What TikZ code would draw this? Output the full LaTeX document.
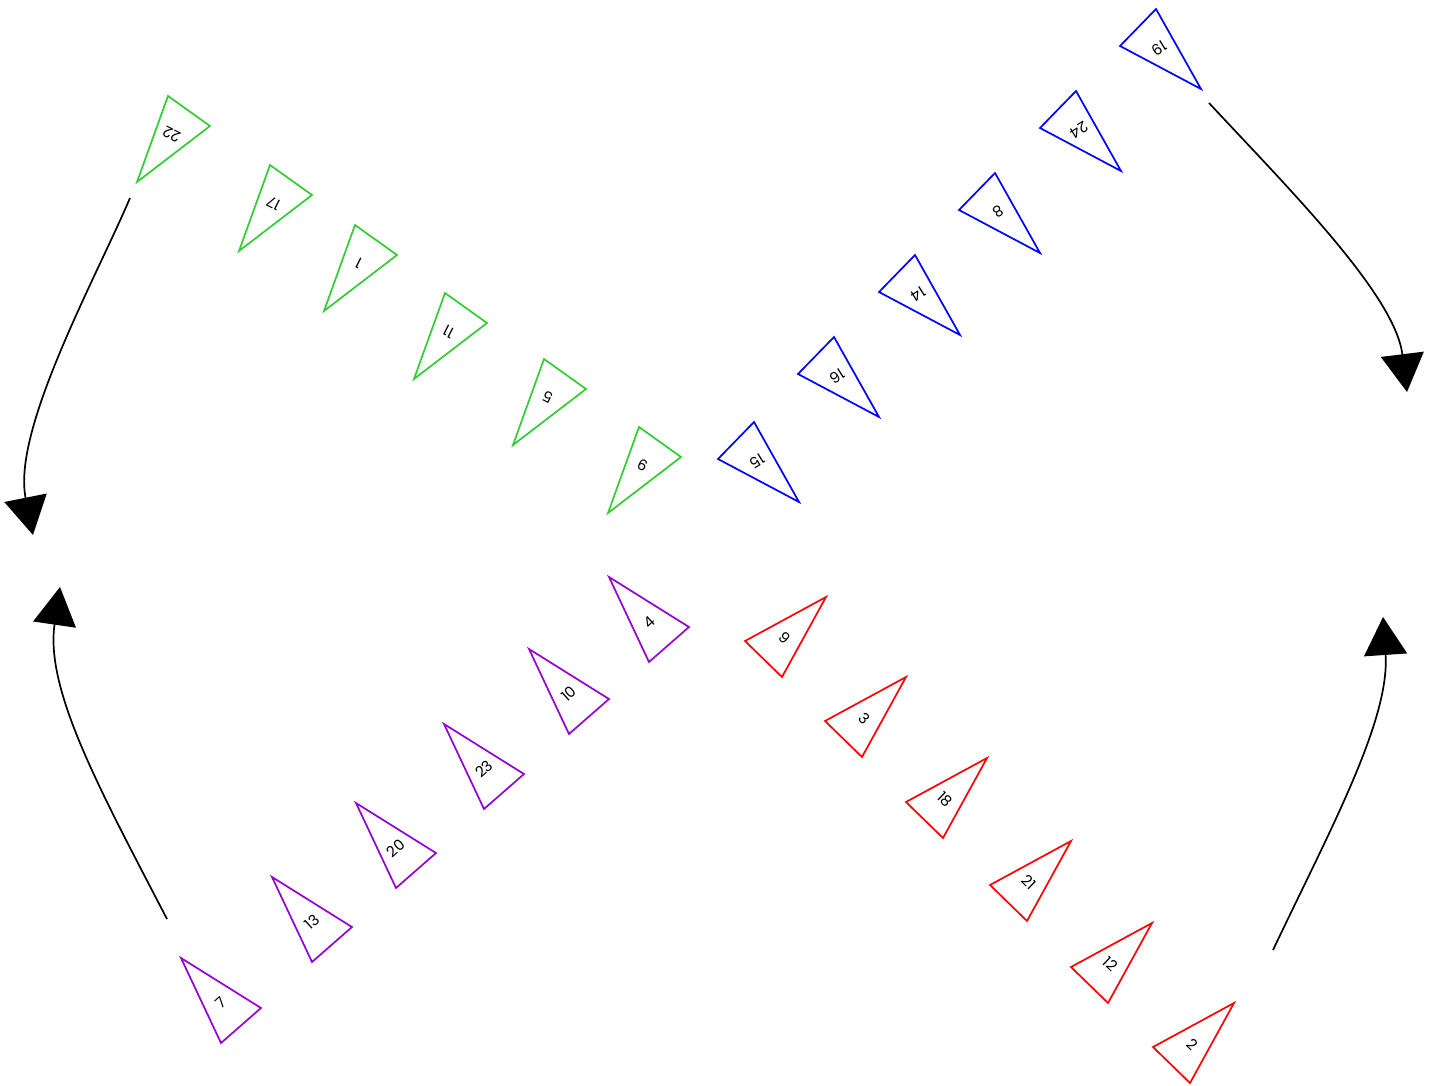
\documentclass[tikz,border=0pt]{standalone}
\usepackage{fontspec}
\setmainfont{Poppins}
\usetikzlibrary{arrows.meta}
\definecolor{tgreen}{RGB}{50,205,50}
\definecolor{tblue}{RGB}{0,0,255}
\definecolor{tpurple}{RGB}{148,0,211}
\definecolor{tred}{RGB}{255,0,0}
\newcommand\trigreen[4]{\begin{scope}[shift={(#2,#3)}]\draw[tri,tgreen] (0,0)--(42,30)--(-31,86)--cycle;\node[lab,rotate=153] (#1) at (3.67,38.67) {#4};\end{scope}}
\newcommand\triblue[4]{\begin{scope}[shift={(#2,#3)}]\draw[tri,tblue] (0,0)--(-36,37)--(45,80)--cycle;\node[lab,rotate=212] (#1) at (3,39) {#4};\end{scope}}
\newcommand\tripurple[4]{\begin{scope}[shift={(#2,#3)}]\draw[tri,tpurple] (0,0)--(80,50)--(40,85)--cycle;\node[lab,rotate=42] (#1) at (40,45) {#4};\end{scope}}
\newcommand\trired[4]{\begin{scope}[shift={(#2,#3)}]\draw[tri,tred] (0,0)--(-81,44)--(-44,80)--cycle;\node[lab,rotate=-44] (#1) at (-41.7,41.3) {#4};\end{scope}}
\begin{document}
\begin{tikzpicture}[x=1pt,y=-1pt,
  tri/.style={line width=1.7pt,line join=miter},
  lab/.style={font=\fontsize{15}{15}\selectfont,inner sep=0pt,text=black},
  conn/.style={line width=1.7pt,-{Triangle[length=38pt,width=43pt]}}]
\useasboundingbox (0,0) rectangle (1434,1086);
% green group
\trigreen{g22}{168}{96}{22}
\trigreen{g17}{270}{165}{17}
\trigreen{g1}{355}{225}{1}
\trigreen{g11}{445}{293}{11}
\trigreen{g5}{544}{359}{5}
\trigreen{g9}{639}{427}{9}
% blue group
\triblue{b19}{1156}{9}{19}
\triblue{b24}{1076}{91}{24}
\triblue{b8}{995}{173}{8}
\triblue{b14}{915}{255}{14}
\triblue{b16}{834}{337}{16}
\triblue{b15}{754}{422}{15}
% purple group
\tripurple{p7}{181}{958}{7}
\tripurple{p13}{272}{877}{13}
\tripurple{p20}{356}{803}{20}
\tripurple{p23}{444}{724}{23}
\tripurple{p10}{529}{649}{10}
\tripurple{p4}{609}{577}{4}
% red group
\trired{r2}{1234}{1003}{2}
\trired{r12}{1152}{923}{12}
\trired{r21}{1071}{841}{21}
\trired{r18}{987}{758}{18}
\trired{r3}{906}{677}{3}
\trired{r9}{826}{597}{9}
% connector end points
\coordinate (a1s) at (130,198);
\coordinate (a1e) at (33,535);
\coordinate (a2s) at (167,919);
\coordinate (a2e) at (60,587);
\coordinate (a3s) at (1209,103);
\coordinate (a3e) at (1407,392);
\coordinate (a4s) at (1273,950);
\coordinate (a4e) at (1383,617);
\draw[conn] (a1s) .. controls (95,280) and (12,430) .. (a1e);
\draw[conn] (a2s) .. controls (100,790) and (45,690) .. (a2e);
\draw[conn] (a3s) .. controls (1290,190) and (1395,295) .. (a3e);
\draw[conn] (a4s) .. controls (1330,830) and (1390,720) .. (a4e);
\end{tikzpicture}
\end{document}
